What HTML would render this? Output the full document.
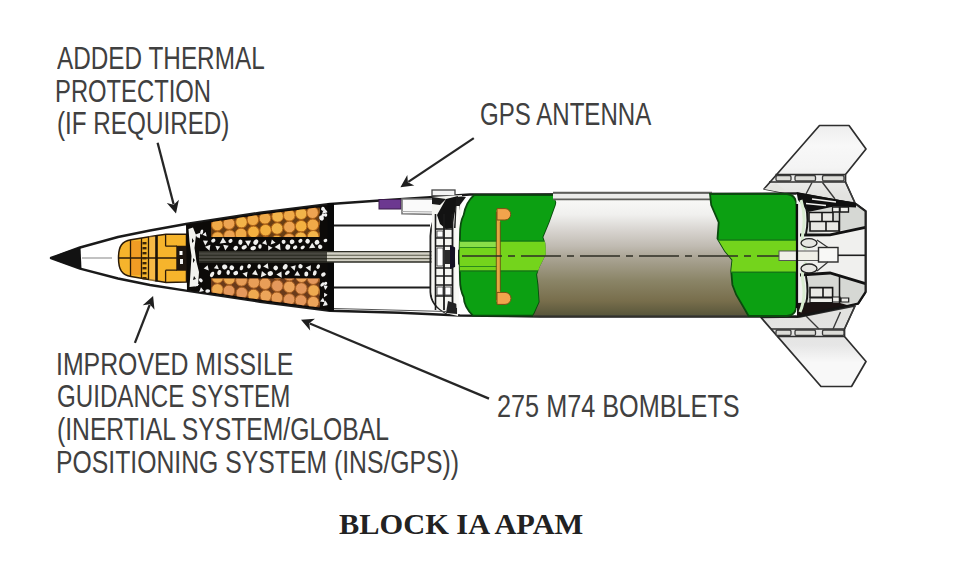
<!DOCTYPE html>
<html><head><meta charset="utf-8">
<style>
html,body{margin:0;padding:0;background:#fff;}
body{width:960px;height:562px;position:relative;overflow:hidden;}
.t{position:absolute;font-family:"Liberation Sans",sans-serif;font-size:32px;line-height:32px;color:#404040;white-space:nowrap;transform-origin:0 0;}
.title{position:absolute;font-family:"Liberation Serif",serif;font-weight:bold;font-size:29px;line-height:29px;color:#222;white-space:nowrap;transform-origin:0 0;}
svg{position:absolute;left:0;top:0;}
</style></head><body>
<svg width="960" height="562" viewBox="0 0 960 562">
<defs>
<linearGradient id="cyl" x1="0" y1="199.5" x2="0" y2="316" gradientUnits="userSpaceOnUse">
<stop offset="0" stop-color="#f8f8f6"/>
<stop offset="0.13" stop-color="#f0f0ee"/>
<stop offset="0.25" stop-color="#dad7d3"/>
<stop offset="0.4" stop-color="#c0bbb2"/>
<stop offset="0.5" stop-color="#aaa494"/>
<stop offset="0.7" stop-color="#8a8466"/>
<stop offset="0.87" stop-color="#786e4c"/>
<stop offset="1" stop-color="#57553a"/>
</linearGradient>
</defs>
<linearGradient id="gfu" x1="0" y1="125" x2="0" y2="195" gradientUnits="userSpaceOnUse"><stop offset="0" stop-color="#eeeeee"/><stop offset="0.3" stop-color="#f8f8f8"/><stop offset="0.6" stop-color="#f4f4f4"/><stop offset="1" stop-color="#e2e2e0"/></linearGradient>
<path d="M764,189 L819.5,125.5 L849,125.5 L866,149 L845.5,174.5 L845.5,182 L855,203 L790,194 Z" fill="url(#gfu)" stroke="#2e2e2e" stroke-width="1.7" stroke-linejoin="round"/>
<path d="M775.5,174.5 L845.5,174.5 M769,182 L845.5,182" stroke="#2e2e2e" stroke-width="1.6"/>
<rect x="776" y="175.5" width="15" height="5.5" rx="1.5" fill="#dcdcd8" stroke="#3a3a3a" stroke-width="1.3"/>
<rect x="795" y="175.5" width="20.5" height="5.5" rx="1.5" fill="#dcdcd8" stroke="#3a3a3a" stroke-width="1.3"/>
<rect x="822.5" y="175.5" width="21.5" height="5.5" rx="1.5" fill="#dcdcd8" stroke="#3a3a3a" stroke-width="1.3"/>
<path d="M812,182.5 L806,194 M822.5,182.5 L835,199 M845.5,182 L855,203" stroke="#3a3a3a" stroke-width="1.4" fill="none"/>
<path d="M776,183 L764,189 L790,194 Z" fill="#e4e4e0"/>
<linearGradient id="gfl" x1="0" y1="317" x2="0" y2="387" gradientUnits="userSpaceOnUse"><stop offset="0" stop-color="#e2e2e0"/><stop offset="0.4" stop-color="#e6e6e6"/><stop offset="0.65" stop-color="#f8f8f8"/><stop offset="1" stop-color="#f8f8f8"/></linearGradient>
<path d="M761,317.5 L821,386.5 L851.5,386.5 L866,361.5 L844.5,336.5 L844.5,329 L855,306 L800,317 Z" fill="url(#gfl)" stroke="#2e2e2e" stroke-width="1.7" stroke-linejoin="round"/>
<path d="M771,329 L844.5,329 M777.5,336.5 L844.5,336.5" stroke="#2e2e2e" stroke-width="1.6"/>
<rect x="776" y="330" width="15" height="5.5" rx="1.5" fill="#dcdcd8" stroke="#3a3a3a" stroke-width="1.3"/>
<rect x="795" y="330" width="20.5" height="5.5" rx="1.5" fill="#dcdcd8" stroke="#3a3a3a" stroke-width="1.3"/>
<rect x="822.5" y="330" width="21.5" height="5.5" rx="1.5" fill="#dcdcd8" stroke="#3a3a3a" stroke-width="1.3"/>
<path d="M806,316 L819,329 M840.5,312 L833,329 M855,306 L844.5,329" stroke="#3a3a3a" stroke-width="1.4" fill="none"/>
<path d="M51,258 L80,247.5 L118,237 L150,230.5 L186,224 L260,212.7 L330,204 L380,200.5 L430,197.2 L455,195.5 L470,194.5 L796,193.5 L856,204.3 L865.5,211.2 L865.5,292 L858,303.5 L849,305.5 L830,309.5 L796.5,316.5 L540,316.5 L460,315.5 L400,312.8 L330,310.8 L260,301.7 L186,290.6 L150,285 L118,278.5 L80,268.7 Z" fill="#fff" stroke="#1a1a1a" stroke-width="2.4" stroke-linejoin="round"/>
<path d="M50.5,258 Q62,252.5 80.5,247 L81.5,269 Q62,263.5 50.5,258 Z" fill="#121212"/>
<line x1="82" y1="258" x2="112" y2="258" stroke="#999" stroke-width="1.2"/>
<path d="M118.5,258 C118.5,246 122,241.5 131,239.8 L157,235.5 L166,234.3 L186.5,234.3 L186.5,246.5 L177,246.5 L177,270 L186.5,270 L186.5,282 L166,282.4 L131,276.6 C122,275 118.5,270 118.5,258 Z" fill="#f6b42c" stroke="#2a1a08" stroke-width="1.5"/>
<path d="M136,241 L136,275" stroke="#ee9020" stroke-width="10" opacity="0.65"/><path d="M152.5,236.5 L152.5,281" stroke="#f6c060" stroke-width="7" opacity="0.5"/>
<path d="M130.5,239.8 L130.5,276.6 M141.5,238 L141.5,278.5 M148.5,237 L148.5,279.5 M118.5,258 L177,258 M165.6,246.2 L177,246.2 M165.6,270.2 L177,270.2" stroke="#2a1a08" stroke-width="1.3" fill="none"/>
<path d="M156.5,235.5 L156.5,281.5" stroke="#1a1208" stroke-width="2.6"/>
<path d="M165.6,234.3 L165.6,246.2 M165.6,270.2 L165.6,282.3" stroke="#2a1a08" stroke-width="1.3"/>
<rect x="142.5" y="242" width="4" height="2.4" fill="#3a2408"/>
<rect x="142.5" y="247" width="4" height="2.4" fill="#3a2408"/>
<rect x="142.5" y="252" width="4" height="2.4" fill="#3a2408"/>
<rect x="142.5" y="257" width="4" height="2.4" fill="#3a2408"/>
<rect x="142.5" y="262" width="4" height="2.4" fill="#3a2408"/>
<rect x="142.5" y="267" width="4" height="2.4" fill="#3a2408"/>
<rect x="142.5" y="272" width="4" height="2.4" fill="#3a2408"/>
<rect x="142.5" y="277" width="4" height="2.4" fill="#3a2408"/>
<rect x="177" y="246.5" width="10" height="23.5" fill="#1e1610"/>
<rect x="179.5" y="251" width="3" height="4" fill="#fff"/><rect x="180" y="259" width="3" height="5" fill="#eee"/>
<polygon points="186.0,224.5 189.0,224.0 192.0,223.6 195.0,223.1 198.0,222.7 201.0,222.2 204.0,221.8 207.0,221.3 210.0,220.8 213.0,220.4 216.0,219.9 219.0,219.5 222.0,219.0 225.0,218.5 228.0,218.1 231.0,217.6 234.0,217.2 237.0,216.7 240.0,216.3 243.0,215.8 246.0,215.3 249.0,214.9 252.0,214.4 255.0,214.0 258.0,213.5 261.0,213.1 264.0,212.7 267.0,212.3 270.0,212.0 273.0,211.6 276.0,211.2 279.0,210.8 282.0,210.5 285.0,210.1 288.0,209.7 291.0,209.3 294.0,209.0 297.0,208.6 300.0,208.2 303.0,207.9 306.0,207.5 309.0,207.1 312.0,206.7 315.0,206.4 318.0,206.0 321.0,205.6 324.0,205.2 327.0,204.9 330.0,204.5 333.0,204.3 334.0,204.2 334.0,310.4 334.0,310.4 331.0,310.3 328.0,310.0 325.0,309.7 322.0,309.3 319.0,308.9 316.0,308.5 313.0,308.1 310.0,307.7 307.0,307.3 304.0,306.9 301.0,306.5 298.0,306.1 295.0,305.8 292.0,305.4 289.0,305.0 286.0,304.6 283.0,304.2 280.0,303.8 277.0,303.4 274.0,303.0 271.0,302.6 268.0,302.2 265.0,301.8 262.0,301.5 259.0,301.1 256.0,300.6 253.0,300.1 250.0,299.7 247.0,299.2 244.0,298.8 241.0,298.4 238.0,297.9 235.0,297.4 232.0,297.0 229.0,296.6 226.0,296.1 223.0,295.6 220.0,295.2 217.0,294.8 214.0,294.3 211.0,293.9 208.0,293.4 205.0,292.9 202.0,292.5 199.0,292.1 196.0,291.6 193.0,291.2 190.0,290.7 187.0,290.2" fill="#0c0a08"/>
<path d="M188.5,229 L193,227.5 L196,235 L194.5,248 L196.5,262 L199,272 L198,286 L189.5,287 L190.5,272 L191.5,256 L189.5,242 Z" fill="#f2f2ee"/>
<path d="M192,238 l2,3 l-2,2 z M193,258 l2,2 l-2,3 z M194,276 l2,3 l-3,1 z" fill="#111"/>
<clipPath id="ctop"><polygon points="211.0,222.2 214.0,221.7 217.0,221.3 220.0,220.8 223.0,220.3 226.0,219.9 229.0,219.4 232.0,219.0 235.0,218.5 238.0,218.1 241.0,217.6 244.0,217.1 247.0,216.7 250.0,216.2 253.0,215.8 256.0,215.3 259.0,214.9 262.0,214.5 265.0,214.1 268.0,213.7 271.0,213.3 274.0,213.0 277.0,212.6 280.0,212.2 283.0,211.8 286.0,211.5 289.0,211.1 292.0,210.7 295.0,210.3 298.0,210.0 301.0,209.6 304.0,209.2 307.0,208.9 310.0,208.5 313.0,208.1 316.0,207.7 319.0,207.4 319.5,207.3 319.5,237.0 211.0,237.0"/></clipPath>
<clipPath id="cbot"><polygon points="211.0,292.4 214.0,292.8 217.0,293.2 220.0,293.7 223.0,294.1 226.0,294.6 229.0,295.1 232.0,295.5 235.0,295.9 238.0,296.4 241.0,296.9 244.0,297.3 247.0,297.8 250.0,298.2 253.0,298.6 256.0,299.1 259.0,299.6 262.0,300.0 265.0,300.3 268.0,300.7 271.0,301.1 274.0,301.5 277.0,301.9 280.0,302.3 283.0,302.7 286.0,303.1 289.0,303.5 292.0,303.9 295.0,304.2 298.0,304.6 301.0,305.0 304.0,305.4 307.0,305.8 310.0,306.2 313.0,306.6 316.0,307.0 319.0,307.4 319.5,307.4 319.5,278.5 211.0,278.5"/></clipPath>
<polygon points="211.0,222.2 214.0,221.7 217.0,221.3 220.0,220.8 223.0,220.3 226.0,219.9 229.0,219.4 232.0,219.0 235.0,218.5 238.0,218.1 241.0,217.6 244.0,217.1 247.0,216.7 250.0,216.2 253.0,215.8 256.0,215.3 259.0,214.9 262.0,214.5 265.0,214.1 268.0,213.7 271.0,213.3 274.0,213.0 277.0,212.6 280.0,212.2 283.0,211.8 286.0,211.5 289.0,211.1 292.0,210.7 295.0,210.3 298.0,210.0 301.0,209.6 304.0,209.2 307.0,208.9 310.0,208.5 313.0,208.1 316.0,207.7 319.0,207.4 319.5,207.3 319.5,237.0 211.0,237.0" fill="#6a3e14"/>
<polygon points="211.0,292.4 214.0,292.8 217.0,293.2 220.0,293.7 223.0,294.1 226.0,294.6 229.0,295.1 232.0,295.5 235.0,295.9 238.0,296.4 241.0,296.9 244.0,297.3 247.0,297.8 250.0,298.2 253.0,298.6 256.0,299.1 259.0,299.6 262.0,300.0 265.0,300.3 268.0,300.7 271.0,301.1 274.0,301.5 277.0,301.9 280.0,302.3 283.0,302.7 286.0,303.1 289.0,303.5 292.0,303.9 295.0,304.2 298.0,304.6 301.0,305.0 304.0,305.4 307.0,305.8 310.0,306.2 313.0,306.6 316.0,307.0 319.0,307.4 319.5,307.4 319.5,278.5 211.0,278.5" fill="#6a3a1a"/>
<g clip-path="url(#ctop)">
<circle cx="217.3" cy="225.0" r="5.8" fill="#f0aa48" stroke="#b06418" stroke-width="1"/>
<circle cx="229.0" cy="223.6" r="5.8" fill="#eea452" stroke="#b06418" stroke-width="1"/>
<circle cx="241.5" cy="222.1" r="5.8" fill="#f2b44a" stroke="#b06418" stroke-width="1"/>
<circle cx="252.9" cy="219.8" r="5.8" fill="#f0aa48" stroke="#b06418" stroke-width="1"/>
<circle cx="265.0" cy="218.3" r="5.8" fill="#f0aa48" stroke="#b06418" stroke-width="1"/>
<circle cx="277.6" cy="216.4" r="5.8" fill="#f2b44a" stroke="#b06418" stroke-width="1"/>
<circle cx="289.3" cy="215.4" r="5.8" fill="#f0aa48" stroke="#b06418" stroke-width="1"/>
<circle cx="301.2" cy="213.7" r="5.8" fill="#f2b44a" stroke="#b06418" stroke-width="1"/>
<circle cx="312.6" cy="212.7" r="5.8" fill="#eea452" stroke="#b06418" stroke-width="1"/>
<circle cx="325.0" cy="210.9" r="5.8" fill="#eea452" stroke="#b06418" stroke-width="1"/>
<circle cx="217.6" cy="237.6" r="5.8" fill="#f0aa48" stroke="#b06418" stroke-width="1"/>
<circle cx="229.5" cy="235.7" r="5.8" fill="#eea452" stroke="#b06418" stroke-width="1"/>
<circle cx="241.0" cy="234.0" r="5.8" fill="#f0aa48" stroke="#b06418" stroke-width="1"/>
<circle cx="253.5" cy="231.9" r="5.8" fill="#f4b040" stroke="#b06418" stroke-width="1"/>
<circle cx="265.6" cy="230.2" r="5.8" fill="#f4b040" stroke="#b06418" stroke-width="1"/>
<circle cx="277.1" cy="228.5" r="5.8" fill="#f2b44a" stroke="#b06418" stroke-width="1"/>
<circle cx="289.4" cy="227.0" r="5.8" fill="#eea452" stroke="#b06418" stroke-width="1"/>
<circle cx="301.2" cy="226.2" r="5.8" fill="#f4b040" stroke="#b06418" stroke-width="1"/>
<circle cx="312.9" cy="224.8" r="5.8" fill="#f0aa48" stroke="#b06418" stroke-width="1"/>
<circle cx="325.1" cy="222.5" r="5.8" fill="#eea452" stroke="#b06418" stroke-width="1"/>
<circle cx="217.2" cy="249.4" r="5.8" fill="#f0aa48" stroke="#b06418" stroke-width="1"/>
<circle cx="229.9" cy="247.1" r="5.8" fill="#eea452" stroke="#b06418" stroke-width="1"/>
<circle cx="241.2" cy="245.6" r="5.8" fill="#f4b040" stroke="#b06418" stroke-width="1"/>
<circle cx="253.4" cy="243.9" r="5.8" fill="#f0aa48" stroke="#b06418" stroke-width="1"/>
<circle cx="265.7" cy="242.2" r="5.8" fill="#f0aa48" stroke="#b06418" stroke-width="1"/>
<circle cx="276.8" cy="241.0" r="5.8" fill="#f4b040" stroke="#b06418" stroke-width="1"/>
<circle cx="289.0" cy="239.2" r="5.8" fill="#eea452" stroke="#b06418" stroke-width="1"/>
<circle cx="300.7" cy="237.7" r="5.8" fill="#f2b44a" stroke="#b06418" stroke-width="1"/>
<circle cx="313.2" cy="236.3" r="5.8" fill="#f2b44a" stroke="#b06418" stroke-width="1"/>
<circle cx="325.3" cy="234.4" r="5.8" fill="#f2b44a" stroke="#b06418" stroke-width="1"/>
</g>
<g clip-path="url(#cbot)">
<circle cx="217.4" cy="289.5" r="5.8" fill="#eeaa50" stroke="#a86024" stroke-width="1"/>
<circle cx="229.0" cy="290.9" r="5.8" fill="#e4985c" stroke="#a86024" stroke-width="1"/>
<circle cx="241.8" cy="293.0" r="5.8" fill="#e4985c" stroke="#a86024" stroke-width="1"/>
<circle cx="253.6" cy="295.0" r="5.8" fill="#eeaa50" stroke="#a86024" stroke-width="1"/>
<circle cx="265.8" cy="295.8" r="5.8" fill="#eca45a" stroke="#a86024" stroke-width="1"/>
<circle cx="276.9" cy="297.9" r="5.8" fill="#e89e58" stroke="#a86024" stroke-width="1"/>
<circle cx="289.2" cy="299.4" r="5.8" fill="#e4985c" stroke="#a86024" stroke-width="1"/>
<circle cx="300.9" cy="300.5" r="5.8" fill="#e4985c" stroke="#a86024" stroke-width="1"/>
<circle cx="313.2" cy="302.2" r="5.8" fill="#eca45a" stroke="#a86024" stroke-width="1"/>
<circle cx="325.2" cy="304.0" r="5.8" fill="#e89e58" stroke="#a86024" stroke-width="1"/>
<circle cx="217.5" cy="277.5" r="5.8" fill="#eeaa50" stroke="#a86024" stroke-width="1"/>
<circle cx="229.3" cy="278.8" r="5.8" fill="#eeaa50" stroke="#a86024" stroke-width="1"/>
<circle cx="241.5" cy="280.3" r="5.8" fill="#e89e58" stroke="#a86024" stroke-width="1"/>
<circle cx="253.8" cy="282.4" r="5.8" fill="#e89e58" stroke="#a86024" stroke-width="1"/>
<circle cx="265.1" cy="283.7" r="5.8" fill="#e89e58" stroke="#a86024" stroke-width="1"/>
<circle cx="277.3" cy="285.8" r="5.8" fill="#e4985c" stroke="#a86024" stroke-width="1"/>
<circle cx="289.3" cy="286.9" r="5.8" fill="#eca45a" stroke="#a86024" stroke-width="1"/>
<circle cx="301.3" cy="288.5" r="5.8" fill="#e4985c" stroke="#a86024" stroke-width="1"/>
<circle cx="313.6" cy="290.5" r="5.8" fill="#eeaa50" stroke="#a86024" stroke-width="1"/>
<circle cx="324.7" cy="292.3" r="5.8" fill="#eeaa50" stroke="#a86024" stroke-width="1"/>
<circle cx="217.5" cy="264.9" r="5.8" fill="#eca45a" stroke="#a86024" stroke-width="1"/>
<circle cx="229.1" cy="266.8" r="5.8" fill="#e4985c" stroke="#a86024" stroke-width="1"/>
<circle cx="241.4" cy="268.9" r="5.8" fill="#e89e58" stroke="#a86024" stroke-width="1"/>
<circle cx="253.1" cy="271.0" r="5.8" fill="#e4985c" stroke="#a86024" stroke-width="1"/>
<circle cx="264.9" cy="272.2" r="5.8" fill="#e89e58" stroke="#a86024" stroke-width="1"/>
<circle cx="277.5" cy="273.5" r="5.8" fill="#e89e58" stroke="#a86024" stroke-width="1"/>
<circle cx="289.4" cy="275.1" r="5.8" fill="#e4985c" stroke="#a86024" stroke-width="1"/>
<circle cx="301.6" cy="276.7" r="5.8" fill="#eca45a" stroke="#a86024" stroke-width="1"/>
<circle cx="313.1" cy="278.7" r="5.8" fill="#e4985c" stroke="#a86024" stroke-width="1"/>
<circle cx="325.2" cy="280.1" r="5.8" fill="#eca45a" stroke="#a86024" stroke-width="1"/>
</g>
<path d="M205.7,239.4 L208.4,244.0 L203.0,243.8 Z" fill="#eeeeec" transform="rotate(62 205.7 242.1)"/>
<ellipse cx="213.3" cy="240.6" rx="1.8" ry="2.2" fill="#f0f0ee" transform="rotate(62 213.3 240.6)"/>
<path d="M223.3,238.0 L226.7,243.8 L219.9,243.4 Z" fill="#eeeeec" transform="rotate(115 223.3 241.4)"/>
<ellipse cx="230.5" cy="240.9" rx="1.8" ry="2.2" fill="#f0f0ee" transform="rotate(56 230.5 240.9)"/>
<ellipse cx="240.4" cy="242.2" rx="2.1" ry="2.7" fill="#f0f0ee" transform="rotate(8 240.4 242.2)"/>
<path d="M248.4,239.1 L251.6,244.5 L245.2,244.2 Z" fill="#eeeeec" transform="rotate(57 248.4 242.3)"/>
<ellipse cx="255.8" cy="242.1" rx="2.2" ry="2.9" fill="#f0f0ee" transform="rotate(36 255.8 242.1)"/>
<path d="M265.0,239.7 L267.6,244.3 L262.3,244.0 Z" fill="#eeeeec" transform="rotate(15 265.0 242.4)"/>
<path d="M273.0,239.7 L275.6,244.2 L270.3,243.9 Z" fill="#eeeeec" transform="rotate(99 273.0 242.3)"/>
<ellipse cx="283.6" cy="241.8" rx="2.0" ry="2.1" fill="#f0f0ee" transform="rotate(1 283.6 241.8)"/>
<ellipse cx="292.1" cy="241.8" rx="2.3" ry="2.4" fill="#f0f0ee" transform="rotate(78 292.1 241.8)"/>
<ellipse cx="300.4" cy="240.9" rx="1.8" ry="2.2" fill="#f0f0ee" transform="rotate(53 300.4 240.9)"/>
<ellipse cx="307.6" cy="241.3" rx="2.3" ry="2.3" fill="#f0f0ee" transform="rotate(41 307.6 241.3)"/>
<ellipse cx="317.0" cy="242.3" rx="2.3" ry="2.5" fill="#f0f0ee" transform="rotate(48 317.0 242.3)"/>
<ellipse cx="325.5" cy="240.5" rx="1.7" ry="2.0" fill="#f0f0ee" transform="rotate(72 325.5 240.5)"/>
<path d="M208.5,244.2 L211.5,249.3 L205.5,249.0 Z" fill="#eeeeec" transform="rotate(39 208.5 247.2)"/>
<path d="M217.9,244.8 L220.5,249.2 L215.3,249.0 Z" fill="#eeeeec" transform="rotate(67 217.9 247.4)"/>
<path d="M225.9,243.9 L228.9,248.9 L222.9,248.6 Z" fill="#eeeeec" transform="rotate(67 225.9 246.9)"/>
<ellipse cx="235.7" cy="248.1" rx="2.1" ry="2.5" fill="#f0f0ee" transform="rotate(46 235.7 248.1)"/>
<ellipse cx="244.2" cy="247.2" rx="2.0" ry="2.8" fill="#f0f0ee" transform="rotate(63 244.2 247.2)"/>
<ellipse cx="253.2" cy="248.2" rx="2.0" ry="2.8" fill="#f0f0ee" transform="rotate(76 253.2 248.2)"/>
<ellipse cx="260.0" cy="246.5" rx="1.7" ry="2.2" fill="#f0f0ee" transform="rotate(7 260.0 246.5)"/>
<path d="M269.9,245.2 L272.5,249.7 L267.3,249.5 Z" fill="#eeeeec" transform="rotate(86 269.9 247.9)"/>
<path d="M278.5,243.2 L281.9,248.9 L275.1,248.6 Z" fill="#eeeeec" transform="rotate(26 278.5 246.6)"/>
<ellipse cx="287.8" cy="247.1" rx="2.4" ry="2.7" fill="#f0f0ee" transform="rotate(15 287.8 247.1)"/>
<ellipse cx="295.1" cy="247.3" rx="1.8" ry="2.3" fill="#f0f0ee" transform="rotate(65 295.1 247.3)"/>
<ellipse cx="302.7" cy="247.4" rx="1.6" ry="2.3" fill="#f0f0ee" transform="rotate(56 302.7 247.4)"/>
<path d="M312.5,243.2 L315.7,248.7 L309.3,248.4 Z" fill="#eeeeec" transform="rotate(117 312.5 246.4)"/>
<ellipse cx="320.2" cy="246.8" rx="2.2" ry="2.2" fill="#f0f0ee" transform="rotate(12 320.2 246.8)"/>
<path d="M206.8,265.1 L209.5,269.7 L204.1,269.5 Z" fill="#eeeeec" transform="rotate(18 206.8 267.8)"/>
<path d="M216.6,264.6 L219.2,268.9 L214.0,268.7 Z" fill="#eeeeec" transform="rotate(7 216.6 267.1)"/>
<ellipse cx="224.7" cy="266.9" rx="2.4" ry="2.6" fill="#f0f0ee" transform="rotate(72 224.7 266.9)"/>
<ellipse cx="231.8" cy="267.7" rx="2.3" ry="2.4" fill="#f0f0ee" transform="rotate(31 231.8 267.7)"/>
<ellipse cx="241.5" cy="267.9" rx="1.7" ry="2.5" fill="#f0f0ee" transform="rotate(21 241.5 267.9)"/>
<ellipse cx="249.1" cy="266.3" rx="1.8" ry="2.3" fill="#f0f0ee" transform="rotate(27 249.1 266.3)"/>
<ellipse cx="259.2" cy="266.6" rx="1.7" ry="2.3" fill="#f0f0ee" transform="rotate(2 259.2 266.6)"/>
<path d="M266.6,263.0 L269.6,268.1 L263.6,267.8 Z" fill="#eeeeec" transform="rotate(23 266.6 266.0)"/>
<ellipse cx="275.7" cy="267.9" rx="2.3" ry="2.4" fill="#f0f0ee" transform="rotate(45 275.7 267.9)"/>
<ellipse cx="285.2" cy="266.8" rx="2.2" ry="2.9" fill="#f0f0ee" transform="rotate(31 285.2 266.8)"/>
<path d="M293.8,264.5 L296.7,269.4 L290.9,269.1 Z" fill="#eeeeec" transform="rotate(42 293.8 267.4)"/>
<ellipse cx="300.5" cy="266.3" rx="2.2" ry="2.2" fill="#f0f0ee" transform="rotate(15 300.5 266.3)"/>
<path d="M309.2,264.6 L312.3,269.9 L306.1,269.5 Z" fill="#eeeeec" transform="rotate(34 309.2 267.7)"/>
<ellipse cx="318.2" cy="266.6" rx="1.7" ry="2.4" fill="#f0f0ee" transform="rotate(24 318.2 266.6)"/>
<ellipse cx="212.1" cy="274.4" rx="1.8" ry="2.9" fill="#f0f0ee" transform="rotate(28 212.1 274.4)"/>
<ellipse cx="219.3" cy="272.5" rx="2.0" ry="2.5" fill="#f0f0ee" transform="rotate(18 219.3 272.5)"/>
<ellipse cx="228.2" cy="272.5" rx="1.7" ry="2.4" fill="#f0f0ee" transform="rotate(4 228.2 272.5)"/>
<ellipse cx="235.7" cy="273.1" rx="2.1" ry="2.5" fill="#f0f0ee" transform="rotate(68 235.7 273.1)"/>
<path d="M245.8,271.1 L248.6,275.9 L242.9,275.6 Z" fill="#eeeeec" transform="rotate(39 245.8 273.9)"/>
<path d="M255.2,269.7 L258.2,275.0 L252.1,274.6 Z" fill="#eeeeec" transform="rotate(5 255.2 272.8)"/>
<path d="M263.4,271.1 L266.6,276.5 L260.2,276.2 Z" fill="#eeeeec" transform="rotate(97 263.4 274.3)"/>
<ellipse cx="270.3" cy="273.5" rx="2.3" ry="2.7" fill="#f0f0ee" transform="rotate(74 270.3 273.5)"/>
<path d="M280.0,271.2 L283.1,276.5 L276.9,276.2 Z" fill="#eeeeec" transform="rotate(28 280.0 274.3)"/>
<ellipse cx="287.3" cy="272.8" rx="1.7" ry="2.8" fill="#f0f0ee" transform="rotate(50 287.3 272.8)"/>
<path d="M297.3,270.8 L300.2,275.8 L294.4,275.5 Z" fill="#eeeeec" transform="rotate(0 297.3 273.8)"/>
<ellipse cx="306.3" cy="274.0" rx="2.0" ry="2.6" fill="#f0f0ee" transform="rotate(6 306.3 274.0)"/>
<ellipse cx="314.8" cy="273.0" rx="1.8" ry="2.7" fill="#f0f0ee" transform="rotate(18 314.8 273.0)"/>
<ellipse cx="323.4" cy="274.5" rx="1.9" ry="2.4" fill="#f0f0ee" transform="rotate(62 323.4 274.5)"/>
<path d="M205.0,232.0 L207.3,235.9 L202.7,235.6 Z" fill="#f0f0f0" transform="rotate(18 205.0 234.3)"/>
<ellipse cx="198.3" cy="236.1" rx="1.9" ry="1.5" fill="#f2f2f2" transform="rotate(5 198.3 236.1)"/>
<path d="M198.5,232.1 L201.5,237.2 L195.5,236.9 Z" fill="#f0f0f0" transform="rotate(35 198.5 235.1)"/>
<ellipse cx="201.7" cy="232.0" rx="1.4" ry="2.5" fill="#f2f2f2" transform="rotate(18 201.7 232.0)"/>
<ellipse cx="207.7" cy="291.0" rx="1.8" ry="2.4" fill="#f2f2f2" transform="rotate(87 207.7 291.0)"/>
<ellipse cx="200.8" cy="280.3" rx="2.2" ry="1.7" fill="#f2f2f2" transform="rotate(52 200.8 280.3)"/>
<path d="M196.8,282.0 L199.2,286.0 L194.5,285.8 Z" fill="#f0f0f0" transform="rotate(98 196.8 284.4)"/>
<path d="M201.6,287.7 L204.1,291.9 L199.1,291.7 Z" fill="#f0f0f0" transform="rotate(108 201.6 290.2)"/>
<ellipse cx="322.9" cy="208.7" rx="1.8" ry="2.0" fill="#f2f2f2" transform="rotate(27 322.9 208.7)"/>
<ellipse cx="320.8" cy="217.6" rx="2.1" ry="1.5" fill="#f2f2f2" transform="rotate(68 320.8 217.6)"/>
<path d="M325.0,208.3 L328.1,213.5 L322.0,213.2 Z" fill="#f0f0f0" transform="rotate(108 325.0 211.4)"/>
<ellipse cx="321.7" cy="218.4" rx="2.3" ry="2.1" fill="#f2f2f2" transform="rotate(32 321.7 218.4)"/>
<ellipse cx="322.6" cy="215.7" rx="1.4" ry="2.4" fill="#f2f2f2" transform="rotate(26 322.6 215.7)"/>
<ellipse cx="325.6" cy="215.0" rx="1.8" ry="1.7" fill="#f2f2f2" transform="rotate(34 325.6 215.0)"/>
<path d="M325.7,300.9 L328.7,305.9 L322.8,305.6 Z" fill="#f0f0f0" transform="rotate(110 325.7 303.9)"/>
<path d="M325.6,292.6 L327.9,296.4 L323.4,296.2 Z" fill="#f0f0f0" transform="rotate(88 325.6 294.8)"/>
<path d="M322.7,297.8 L325.2,302.1 L320.2,301.8 Z" fill="#f0f0f0" transform="rotate(6 322.7 300.3)"/>
<ellipse cx="325.6" cy="283.4" rx="1.6" ry="1.8" fill="#f2f2f2" transform="rotate(67 325.6 283.4)"/>
<path d="M325.9,284.5 L328.4,288.8 L323.3,288.6 Z" fill="#f0f0f0" transform="rotate(67 325.9 287.0)"/>
<ellipse cx="322.4" cy="284.5" rx="1.5" ry="2.5" fill="#f2f2f2" transform="rotate(45 322.4 284.5)"/>
<rect x="327.5" y="203" width="6.5" height="108" fill="#080808"/>
<path d="M334,225.5 L430,225.5 M334,287.5 L430,287.5" stroke="#1e1e1e" stroke-width="2.2"/>
<rect x="199" y="251.5" width="233" height="10.5" fill="#d2d0c4"/>
<path d="M199,251.6 L432,251.6 M199,262 L432,262" stroke="#2e2e26" stroke-width="1.4"/>
<path d="M199,255.2 L432,255.2 M199,258.6 L432,258.6" stroke="#5a5a4a" stroke-width="1.1"/>
<rect x="199" y="252" width="128" height="10" fill="#14140e" opacity="0.72"/>
<path d="M437,214.5 Q431,222 430.5,236 L430.5,292 Q431,306 447,313.5" stroke="#1e1e1e" stroke-width="2" fill="none"/>
<rect x="379" y="199.5" width="22" height="9.5" fill="#6c3890" stroke="#3a1a4a" stroke-width="1"/>
<path d="M402,199 L446,199 L437,214.5 L402,213.8 Z" fill="#fafafa" stroke="#777" stroke-width="1.6"/>
<path d="M402,211.5 L437,212" stroke="#aaa" stroke-width="1.2"/>
<rect x="432" y="190" width="23" height="5.8" fill="#f4f4f4" stroke="#444" stroke-width="1.3"/>
<path d="M432,197 L462,195 L458,316 L447,313.5 Q432,306 431.5,292 Z" fill="#f6f6f2"/>
<path d="M446,199 L458,196 L456,206 L452,228 L446,229 L440,224 L437,215 Z" fill="#121212"/>
<path d="M432,197 L446,199 L440,205 L432,204 Z" fill="#1a1a1a"/>
<path d="M435.5,214 L435.5,310" stroke="#1a1a1a" stroke-width="1.6"/>
<path d="M444,214 L444,310" stroke="#1a1a1a" stroke-width="1.8"/>
<path d="M452.5,214 L452.5,310" stroke="#1a1a1a" stroke-width="1.8"/>
<path d="M435.5,229 L452.5,229" stroke="#1a1a1a" stroke-width="1.5"/>
<path d="M435.5,238 L452.5,238" stroke="#1a1a1a" stroke-width="1.5"/>
<path d="M435.5,246 L452.5,246" stroke="#1a1a1a" stroke-width="1.5"/>
<path d="M435.5,268 L452.5,268" stroke="#1a1a1a" stroke-width="1.5"/>
<path d="M435.5,276 L452.5,276" stroke="#1a1a1a" stroke-width="1.5"/>
<path d="M435.5,285 L452.5,285" stroke="#1a1a1a" stroke-width="1.5"/>
<path d="M435.5,296 L452.5,296" stroke="#1a1a1a" stroke-width="1.5"/>
<path d="M437,231 L443,231 L443,237 L437,237 Z M437,248 L443,248 L443,266 L437,266 Z M437,287 L443,287 L443,295 L437,295 Z M445,287 L451,287 L451,295 L445,295 Z" fill="#fff" stroke="#333" stroke-width="0.8"/>
<path d="M445,250 L451,250 L451,264 L445,264 Z" fill="#2a2a2a"/>
<path d="M450,245 Q463,250 462,257 Q463,265 450,269 Z" fill="#141024"/>
<path d="M448,301 L457,304 L457,314 L446,313 Z" fill="#222"/>
<path d="M456,197 Q462,196 466,197 L460,205 L456,228 L454,228 Z" fill="#181818"/>
<path d="M458,206 Q455,258 458,308" stroke="#fafaf6" stroke-width="3" fill="none"/>
<path d="M334,308.5 L447,311.5" stroke="#555" stroke-width="1.2"/>
<path d="M474,195.2 L554.6,195.2 Q557,200 555.8,205 L549.6,222.3 L543.4,237.3 Q546,243 545.8,248.5 L545.8,254.7 L539.6,267 L537.1,274.6 L538.4,284.6 L539.6,302 L534.6,313.2 L533,315.7 L473,315.7 Q464,307 463.7,297 Q460,290 460,279.6 L459.5,254.7 L460,234.8 Q460,222 463.7,214.9 Q466,202 474,195.2 Z" fill="#0ca012" stroke="#0a4a0e" stroke-width="1.8"/>
<clipPath id="clg"><path d="M474,195.2 L554.6,195.2 Q557,200 555.8,205 L549.6,222.3 L543.4,237.3 Q546,243 545.8,248.5 L545.8,254.7 L539.6,267 L537.1,274.6 L538.4,284.6 L539.6,302 L534.6,313.2 L533,315.7 L473,315.7 Q464,307 463.7,297 Q460,290 460,279.6 L459.5,254.7 L460,234.8 Q460,222 463.7,214.9 Q466,202 474,195.2 Z"/></clipPath>
<g clip-path="url(#clg)"><rect x="455" y="241" width="100" height="30" fill="#74d41c"/><rect x="455" y="241" width="42" height="6" fill="#8ade48"/><path d="M455,241 L555,241 M455,271 L555,271" stroke="#147a16" stroke-width="1.6"/><path d="M455,247.5 L497,247.5 M455,266.5 L497,266.5" stroke="#2a8a1c" stroke-width="1.2"/></g>
<path d="M498.3,210 L498.3,302" stroke="#e2a842" stroke-width="3.6"/><path d="M496.3,212 L496.3,300 M500.3,222 L500.3,291" stroke="#6a5010" stroke-width="0.9"/>
<path d="M497,208.6 L505,208.6 A5.7,5.7 0 0 1 505,220 L497,220 Z" fill="#f2a44c" stroke="#7a5012" stroke-width="1"/>
<path d="M497,292.4 L505,292.4 A6,6 0 0 1 505,304.4 L497,304.4 Z" fill="#f2a44c" stroke="#7a5012" stroke-width="1"/>
<path d="M533,199.8 L711,199.8 L711.2,205 L718.7,222.4 L717.5,238.6 L725,251 L732.4,259.8 L731.2,271 L732.4,284.7 L736.2,294.7 L743.6,307.2 L748.6,315 L533,315.7 L534.6,313.2 L539.6,302 L538.4,284.6 L537.1,274.6 L539.6,267 L545.8,254.7 L545.8,248.5 Q546,243 543.4,237.3 L549.6,222.3 L555.8,205 Q557,200 554.6,199.8 Z" fill="url(#cyl)"/>
<rect x="553" y="193.5" width="158" height="5.6" fill="#ececea"/>
<path d="M553,192.6 L712,192.6 M553,199.4 L712,199.4" stroke="#5e5e5a" stroke-width="1.6"/>
<path d="M533,316 L748,316" stroke="#3a3a30" stroke-width="1.6"/>
<path d="M710,194 L787,194 Q796.5,195 796.5,206 L796.5,304 Q796.5,315.5 787,316 L748.6,316 L743.6,307.2 L736.2,294.7 L732.4,284.7 L731.2,271 L732.4,259.8 L725,251 L717.5,238.6 L718.7,222.4 L711.2,205 Z" fill="#0ca012" stroke="#0a4a0e" stroke-width="1.8"/>
<clipPath id="crg"><path d="M710,194 L787,194 Q796.5,195 796.5,206 L796.5,304 Q796.5,315.5 787,316 L748.6,316 L743.6,307.2 L736.2,294.7 L732.4,284.7 L731.2,271 L732.4,259.8 L725,251 L717.5,238.6 L718.7,222.4 L711.2,205 Z"/></clipPath>
<g clip-path="url(#crg)"><rect x="705" y="240" width="95" height="32.3" fill="#74d41c"/><path d="M705,240 L800,240 M705,272.3 L800,272.3" stroke="#147a16" stroke-width="1.6"/></g>
<path d="M462,256 L792,256" stroke="#2e2e24" stroke-width="1.7" stroke-dasharray="40 6 7 6"/>
<path d="M796.5,194 L830,200.5 L856,204.3 L865.5,211.2 L865.5,292 L858,303.5 L849,305.5 L830,309 L796.5,316 Z" fill="#f0f0ee"/>
<path d="M808,207 L856,206 Q864,208 865.5,213 L865.5,227.5 L830,231.5 L808,233.5 Z" fill="#d6d8d4"/>
<path d="M796.5,192 L856,203 L856,207.5 L834,206.5 L808,212 L803,206 L798,200 Z" fill="#101010"/>
<path d="M812,199 L836,202 M806,203.5 L826,205.5" stroke="#f2f2f0" stroke-width="1.3"/>
<path d="M809,212.5 L822,212.5 L822,221.5 L809,221.5 Z M822,212.5 L833,212.5 L833,221.5 L822,221.5 Z M810,221.5 L826,221.5 L826,231 L810,231 Z M826,221.5 L839,221.5 L839,231 L826,231 Z" fill="#e8e8e4" stroke="#161616" stroke-width="1.6"/>
<path d="M832.5,207 L840,207 L840,212 L832.5,212 Z M840,207 L848.5,207 L848.5,212 L840,212 Z" fill="#eeeeea" stroke="#1a1a1a" stroke-width="1.3"/>
<path d="M839.5,207 L839.5,233" stroke="#1a1a1a" stroke-width="1.5"/>
<path d="M800,235 L830,234.8 L865.5,227.4" stroke="#121212" stroke-width="2.8" fill="none"/>
<path d="M808,276 L830,273.5 L865.5,283.6 L865.5,292 L858,302.5 L849,304 L808,305 Z" fill="#d6d8d4"/>
<path d="M800,275 L830,273 L865.5,283.6" stroke="#121212" stroke-width="2.8" fill="none"/>
<path d="M810,287.6 L823,287.6 L823,297.3 L810,297.3 Z M823,287.6 L832.6,287.6 L832.6,297.3 L823,297.3 Z" fill="#e8e8e4" stroke="#161616" stroke-width="1.6"/>
<path d="M810,298 L832.5,298 L832.5,302.5 L810,302.5 Z M832.5,297 L840,297 L840,302 L832.5,302 Z M841,298 L848.7,298 L848.7,302 L841,302 Z" fill="#eeeeea" stroke="#1a1a1a" stroke-width="1.2"/>
<path d="M839.5,277 L839.5,304" stroke="#1a1a1a" stroke-width="1.5"/>
<path d="M797,303 L808,302.6 L840,303 L849,305.5 L830,309.5 L797,316 Z" fill="#1a1212"/>
<path d="M796.5,316.5 L830,309.5 L849,305.5 L858,303.5 L865.5,292" stroke="#141414" stroke-width="2.2" fill="none"/>
<path d="M856,204.3 L865.5,211.2 L865.5,292" stroke="#222" stroke-width="2" fill="none"/>
<path d="M801,200 Q806,215 803,232 Q801,244 806,250 M806,262 Q801,270 803,282 Q806,298 800,312" stroke="#d8ecd0" stroke-width="3" fill="none"/>
<path d="M806,206 Q809,220 806,234 M806,276 Q809,292 806,304" stroke="#151515" stroke-width="2" fill="none"/>
<rect x="779" y="251" width="40" height="9.5" fill="#f0f0e8" stroke="#555" stroke-width="1"/>
<rect x="818.5" y="247.5" width="19.5" height="14.5" fill="#f8f8f6" stroke="#2a2a2a" stroke-width="1.4"/>
<path d="M838,255.3 L865.5,255.3" stroke="#1e1e1e" stroke-width="1.6"/>
<ellipse cx="809" cy="243" rx="8" ry="4.3" fill="#e6e6e2" stroke="#222" stroke-width="1.3"/>
<ellipse cx="809" cy="268.5" rx="8" ry="4.5" fill="#e6e6e2" stroke="#222" stroke-width="1.3"/>
<path d="M817,240 L828,247.5 M817,271 L828,262" stroke="#333" stroke-width="1.2"/>
<path d="M797,204 L797,308" stroke="#0e0e0e" stroke-width="2.2"/>
<line x1="157.6" y1="142.8" x2="173.6" y2="204.3" stroke="#262626" stroke-width="2.3"/>
<path d="M176,213.5 L166.8,203.0 L173.7,204.8 L178.9,199.8 Z" fill="#1e1e1e"/>
<line x1="473.8" y1="138.1" x2="408.3" y2="181.9" stroke="#262626" stroke-width="2.3"/>
<path d="M400.4,187.2 L407.3,175.0 L407.9,182.2 L414.3,185.5 Z" fill="#1e1e1e"/>
<line x1="134.9" y1="342.8" x2="149.7" y2="304.8" stroke="#262626" stroke-width="2.3"/>
<path d="M153.1,295.9 L154.5,309.8 L149.8,304.3 L142.7,305.3 Z" fill="#1e1e1e"/>
<line x1="489" y1="398.6" x2="309.8" y2="323.5" stroke="#262626" stroke-width="2.3"/>
<path d="M301,319.8 L315.0,318.8 L309.3,323.3 L310.1,330.4 Z" fill="#1e1e1e"/>
</svg>
<div class="t" style="left:57.0px;top:42.2px;transform:scaleX(0.7601)">ADDED THERMAL</div>
<div class="t" style="left:54.8px;top:74.7px;transform:scaleX(0.7438)">PROTECTION</div>
<div class="t" style="left:56.5px;top:107.2px;transform:scaleX(0.7578)">(IF REQUIRED)</div>
<div class="t" style="left:480.0px;top:98.0px;transform:scaleX(0.7522)">GPS ANTENNA</div>
<div class="t" style="left:496.9px;top:390.2px;transform:scaleX(0.7888)">275 M74 BOMBLETS</div>
<div class="t" style="left:55.7px;top:348.0px;transform:scaleX(0.7761)">IMPROVED MISSILE</div>
<div class="t" style="left:56.5px;top:380.3px;transform:scaleX(0.7539)">GUIDANCE SYSTEM</div>
<div class="t" style="left:56.5px;top:413.1px;transform:scaleX(0.7714)">(INERTIAL SYSTEM/GLOBAL</div>
<div class="t" style="left:55.7px;top:445.7px;transform:scaleX(0.7738)">POSITIONING SYSTEM (INS/GPS))</div>
<div class="title" style="left:338.5px;top:509.5px;transform:scaleX(1.048)">BLOCK IA APAM</div>
</body></html>
